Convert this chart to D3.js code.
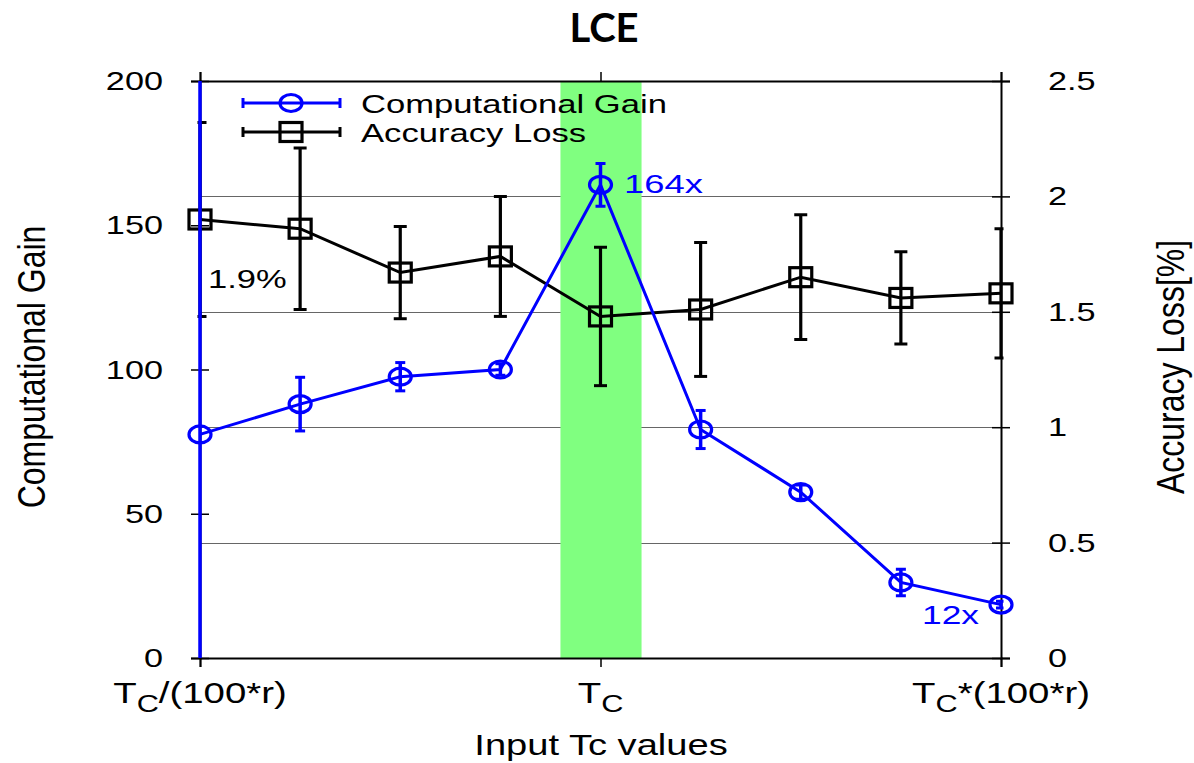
<!DOCTYPE html>
<html><head><meta charset="utf-8">
<script src="https://cdn.jsdelivr.net/npm/d3@7"></script>
<style>body{margin:0;background:#fff;} svg{display:block;} text{font-family:"Liberation Sans",Arial,sans-serif;}</style>
</head><body>
<svg id="c" width="1194" height="763"></svg>
<script>
// ---- data ----
const categories = ["T_C/(100*r)", "", "", "", "T_C", "", "", "", "T_C*(100*r)"];
const gain      = [77.5, 88, 97.5, 100, 164, 79.2, 57.5, 26.2, 18.5];
const gainErr   = [130, 9.3, 4.9, 2, 7.4, 6.6, 2.5, 4.6, 1.2];
const accLoss   = [1.9, 1.86, 1.67, 1.74, 1.48, 1.51, 1.65, 1.56, 1.58];
const accErr    = [0.42, 0.35, 0.2, 0.26, 0.3, 0.29, 0.27, 0.2, 0.28];
const leftTicks = [0, 50, 100, 150, 200];
const rightTicks = [0, 0.5, 1, 1.5, 2, 2.5];
const gridVals  = [0.5, 1, 1.5, 2];
const bandIndex = 4;

const svg = d3.select("#c");
const L = 200, R = 1001, T = 81, B = 658;
const x = d3.scaleLinear().domain([0, categories.length - 1]).range([L, R]);
const yL = d3.scaleLinear().domain([0, 200]).range([B, T]);
const yR = d3.scaleLinear().domain([0, 2.5]).range([B, T]);
const BLUE = "#0000ff";

svg.append("defs").append("clipPath").attr("id", "clip")
  .append("rect").attr("x", L - 2.5).attr("y", T).attr("width", R - L + 5).attr("height", B - T);

function sText(parent, px, py, str, o) {
  const g = parent.append("g").attr("transform", `translate(${px},${py}) scale(${o.sx || 1},1)` + (o.rot ? ` rotate(${o.rot})` : ""));
  const t = g.append("text").attr("text-anchor", o.anchor || "start")
    .attr("font-size", o.size).attr("fill", o.fill || "#000").text(str);
  if (o.family) t.style("font-family", o.family);
  if (o.weight) t.attr("font-weight", o.weight);
  return t;
}

// grid
svg.append("g").selectAll("line").data(gridVals).join("line")
  .attr("x1", L).attr("x2", R).attr("y1", d => Math.round(yR(d)) + 0.5).attr("y2", d => Math.round(yR(d)) + 0.5)
  .attr("stroke", "#666").attr("stroke-width", 1.2);

// green band
const step = x(1) - x(0);
svg.append("rect").attr("x", x(bandIndex) - step * 0.4).attr("y", T)
  .attr("width", step * 0.81).attr("height", B - T).attr("fill", "#80ff80");

// axes
const leftAxis = d3.axisLeft(yL).tickValues(leftTicks).tickSize(9).tickFormat(d3.format("d"));
const gl = svg.append("g").attr("transform", `translate(${L},0)`).call(leftAxis);
gl.select(".domain").attr("stroke-width", 2);
gl.selectAll(".tick line").attr("x1", 9).attr("x2", -9).attr("stroke-width", 1.5);
gl.selectAll(".tick text").attr("x", 0).attr("dy", "0.34em").attr("font-size", 25)
  .style("font-family", "Liberation Sans").attr("transform", "translate(-37,0) scale(1.37,1)");

const rightAxis = d3.axisRight(yR).tickValues(rightTicks).tickSize(9).tickFormat(d => d);
const gr = svg.append("g").attr("transform", `translate(${R},0)`).call(rightAxis);
gr.select(".domain").attr("stroke-width", 2);
gr.selectAll(".tick line").attr("x1", -9).attr("x2", 9).attr("stroke-width", 1.5);
gr.selectAll(".tick text").attr("x", 0).attr("dy", "0.34em").attr("font-size", 25)
  .style("font-family", "Liberation Sans").attr("transform", "translate(47,0) scale(1.37,1)");

const labelIdx = categories.map((c, i) => c ? i : -1).filter(i => i >= 0);
const bottomAxis = d3.axisBottom(x).tickValues(labelIdx).tickSize(9).tickFormat("");
const gb = svg.append("g").attr("transform", `translate(0,${B})`).call(bottomAxis);
gb.select(".domain").attr("stroke-width", 2);
gb.selectAll(".tick line").attr("stroke-width", 1.5);
const topAxis = d3.axisTop(x).tickValues(labelIdx).tickSize(9).tickFormat("");
const gt = svg.append("g").attr("transform", `translate(0,${T})`).call(topAxis);
gt.select(".domain").attr("stroke-width", 2);
gt.selectAll(".tick line").attr("stroke-width", 1.5);

// x tick labels with subscripts
labelIdx.forEach(i => {
  const lab = categories[i];
  const g = svg.append("g").attr("transform", `translate(${x(i)},703) scale(1.28,1)`);
  const t = g.append("text").attr("text-anchor", "middle").attr("font-size", 30);
  const m = lab.match(/^T_C(.*)$/);
  t.append("tspan").text("T");
  t.append("tspan").attr("font-size", 24).attr("dy", 9).text("C");
  if (m[1]) t.append("tspan").attr("dy", -9).text(m[1]);
});

// titles
sText(svg, 604, 42, "LCE", {size: 40, anchor: "middle", weight: "bold", family: "Lato"});
sText(svg, 601, 755, "Input Tc values", {size: 30, anchor: "middle", sx: 1.27});
sText(svg, 45, 367, "Computational Gain", {size: 32, anchor: "middle", sx: 1.2, rot: -90});
sText(svg, 1184, 367, "Accuracy Loss[%]", {size: 32, anchor: "middle", sx: 1.2, rot: -90});

// ---- series ----
function drawSeries(vals, errs, y, color, marker, capW, ebw) {
  const g = svg.append("g");
  const eb = g.append("g").attr("clip-path", "url(#clip)");
  vals.forEach((v, i) => {
    const cx = x(i), y1 = y(v + errs[i]), y2 = y(v - errs[i]);
    eb.append("line").attr("x1", cx).attr("x2", cx).attr("y1", y1).attr("y2", y2)
      .attr("stroke", color).attr("stroke-width", ebw);
    [y1, y2].forEach(yy => eb.append("line").attr("x1", cx - capW).attr("x2", cx + capW)
      .attr("y1", yy).attr("y2", yy).attr("stroke", color).attr("stroke-width", 3));
  });
  g.append("path").datum(vals)
    .attr("d", d3.line().x((d, i) => x(i)).y(d => y(d)))
    .attr("fill", "none").attr("stroke", color).attr("stroke-width", 3);
  vals.forEach((v, i) => marker(g, x(i), y(v)));
  return g;
}
const circleMk = (g, cx, cy) => g.append("ellipse").attr("cx", cx).attr("cy", cy)
  .attr("rx", 11).attr("ry", 8.5).attr("fill", "none").attr("stroke", BLUE).attr("stroke-width", 3.2);
const squareMk = (g, cx, cy) => g.append("rect").attr("x", cx - 11).attr("y", cy - 9.5)
  .attr("width", 22).attr("height", 19).attr("fill", "none").attr("stroke", "#000").attr("stroke-width", 3.2);

drawSeries(accLoss, accErr, yR, "#000", squareMk, 6.5, 3.2);
drawSeries(gain, gainErr, yL, BLUE, circleMk, 5, 3.5);

// annotations
sText(svg, 624, 193, "164x", {size: 26, sx: 1.4, fill: BLUE});
sText(svg, 922, 624, "12x", {size: 26, sx: 1.36, fill: BLUE});
sText(svg, 208, 288, "1.9%", {size: 25, sx: 1.38});

// legend
const leg = svg.append("g");
[{c: BLUE, name: "Computational Gain", mk: circleMk, y: 103, ty: 113},
 {c: "#000", name: "Accuracy Loss", mk: squareMk, y: 132, ty: 142}].forEach(d => {
  leg.append("line").attr("x1", 243).attr("x2", 340).attr("y1", d.y).attr("y2", d.y).attr("stroke", d.c).attr("stroke-width", 3);
  [243, 340].forEach(xx => leg.append("line").attr("x1", xx).attr("x2", xx).attr("y1", d.y - 5).attr("y2", d.y + 5).attr("stroke", d.c).attr("stroke-width", 3));
  d.mk(leg, 291, d.y);
  sText(leg, 361, d.ty, d.name, {size: 25, sx: 1.385});
});
</script>
</body></html>
